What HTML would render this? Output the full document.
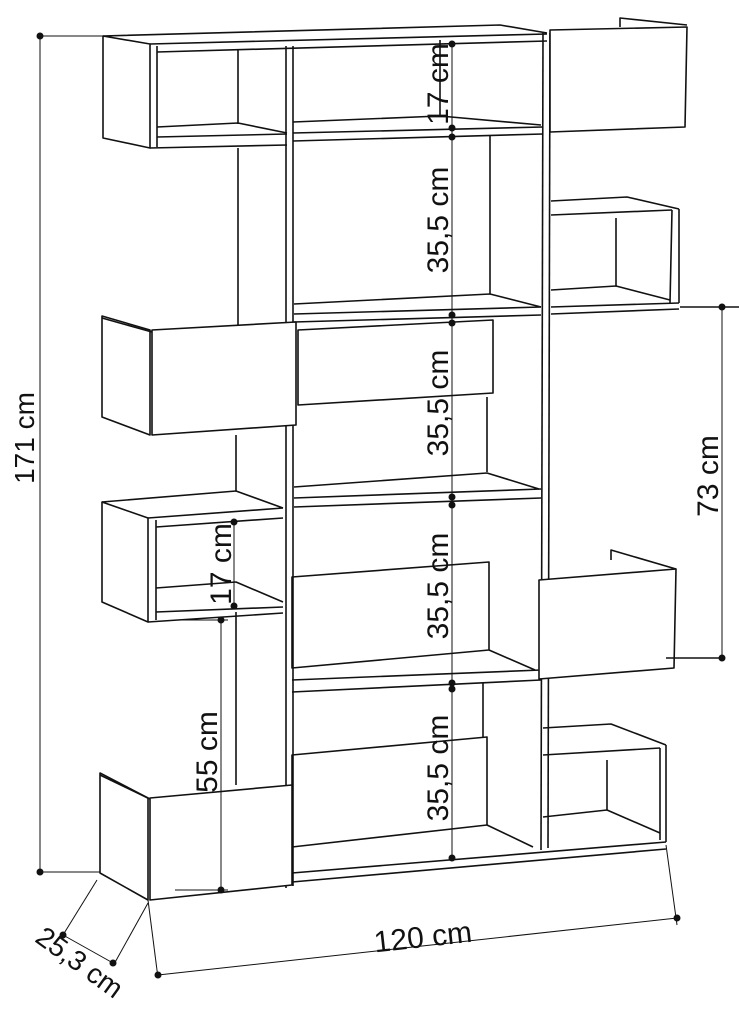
<!DOCTYPE html>
<html><head><meta charset="utf-8"><style>
html,body{margin:0;padding:0;background:#fff;}
svg{display:block;}
text{font-family:"Liberation Sans",sans-serif;font-size:30px;fill:#111;}
</style></head><body>
<svg width="739" height="1020" viewBox="0 0 739 1020" xmlns="http://www.w3.org/2000/svg">
<g fill="none" stroke="#111" stroke-width="1.6" stroke-linejoin="round">
<polygon points="103,36 150,44 150,148 103,138" fill="#fff"/>
<line x1="157" y1="46" x2="157" y2="147"/>
<polyline points="103,36 500,25 547,33"/>
<line x1="150" y1="44" x2="547" y2="34"/>
<line x1="157" y1="52" x2="547" y2="41"/>
<line x1="238" y1="50" x2="238" y2="124"/>
<polyline points="157,127 238,123 287,133"/>
<line x1="157" y1="137" x2="287" y2="134"/>
<line x1="150" y1="148" x2="287" y2="145"/>
<line x1="286" y1="46" x2="286" y2="888"/>
<line x1="293" y1="46" x2="293" y2="886"/>
<line x1="543" y1="33" x2="541" y2="850"/>
<line x1="550" y1="33" x2="548" y2="848"/>
<line x1="238" y1="148" x2="238" y2="325"/>
<line x1="236" y1="435" x2="236" y2="491"/>
<line x1="236" y1="612" x2="236" y2="785"/>
<line x1="440" y1="40" x2="440" y2="117"/>
<polyline points="293,122 440,116 541,125"/>
<line x1="293" y1="133" x2="543" y2="127"/>
<line x1="293" y1="141" x2="543" y2="134"/>
<polygon points="550,30 687,27 685,127 550,132" fill="#fff"/>
<polyline points="620,27 620,18 687,25"/>
<line x1="490" y1="135" x2="490" y2="294"/>
<polyline points="294,304 490,294 541,307"/>
<line x1="294" y1="314" x2="541" y2="307"/>
<line x1="294" y1="322" x2="541" y2="315"/>
<polyline points="551,201 627,197 679,209"/>
<line x1="551" y1="215" x2="672" y2="210"/>
<line x1="672" y1="210" x2="670" y2="303"/>
<line x1="679" y1="209" x2="679" y2="303"/>
<line x1="616" y1="218" x2="616" y2="286"/>
<polyline points="551,290 616,286 670,300"/>
<line x1="551" y1="307" x2="679" y2="303"/>
<line x1="551" y1="314" x2="679" y2="309"/>
<line x1="680" y1="307" x2="739" y2="307"/>
<polygon points="102,316 150,330 150,435 102,417" fill="#fff"/>
<polygon points="152,330 296,322 296,425 152,435" fill="#fff"/>
<line x1="102" y1="318" x2="152" y2="332"/>
<polygon points="298,330 493,320 493,393 298,405"/>
<line x1="487" y1="397" x2="487" y2="472"/>
<polyline points="294,487 487,473 539,489"/>
<line x1="294" y1="498" x2="541" y2="489"/>
<line x1="294" y1="507" x2="541" y2="498"/>
<polygon points="102,502 148,518 148,622 102,602" fill="#fff"/>
<polyline points="102,502 236,491 283,508"/>
<line x1="148" y1="518" x2="283" y2="508"/>
<line x1="156" y1="527" x2="283" y2="518"/>
<line x1="156" y1="520" x2="156" y2="620"/>
<polyline points="156,588 236,582 283,602"/>
<line x1="156" y1="612" x2="283" y2="607"/>
<line x1="148" y1="622" x2="283" y2="613"/>
<polygon points="292,577 489,562 489,650 292,668"/>
<line x1="489" y1="650" x2="535" y2="670"/>
<line x1="292" y1="680" x2="541" y2="670"/>
<line x1="292" y1="692" x2="541" y2="680"/>
<polyline points="611,560 611,550 676,569"/>
<polygon points="539,580 676,569 674,668 539,679" fill="#fff"/>
<line x1="666" y1="658" x2="725" y2="658"/>
<line x1="483" y1="683" x2="483" y2="737"/>
<polygon points="292,755 487,737 487,825 292,847"/>
<line x1="487" y1="825" x2="533" y2="847"/>
<line x1="292" y1="873" x2="666" y2="842"/>
<line x1="292" y1="882" x2="666" y2="849"/>
<polyline points="543,728 611,724 666,745"/>
<line x1="543" y1="755" x2="660" y2="748"/>
<line x1="607" y1="760" x2="607" y2="810"/>
<polyline points="543,817 607,810 660,833"/>
<line x1="660" y1="748" x2="660" y2="840"/>
<line x1="666" y1="745" x2="666" y2="842"/>
<polygon points="100,773 148,798 148,900 100,873" fill="#fff"/>
<line x1="100" y1="775" x2="152" y2="800"/>
<polygon points="150,798 292,785 292,885 150,900" fill="#fff"/>
</g>
<g stroke="#111" stroke-width="1" fill="none">
<line x1="40" y1="36" x2="40" y2="872"/>
<line x1="40" y1="36" x2="103" y2="36"/>
<line x1="40" y1="872" x2="100" y2="872"/>
<line x1="452" y1="44" x2="452" y2="858"/>
<line x1="234" y1="522" x2="234" y2="606"/>
<line x1="221" y1="620" x2="221" y2="890"/>
<line x1="175" y1="620" x2="228" y2="620"/>
<line x1="175" y1="890" x2="228" y2="890"/>
<line x1="722" y1="307" x2="722" y2="658"/>
<line x1="158" y1="975" x2="677" y2="918"/>
<line x1="148" y1="900" x2="158" y2="978"/>
<line x1="666" y1="845" x2="677" y2="925"/>
<line x1="97" y1="880" x2="63" y2="935"/>
<line x1="148" y1="903" x2="113" y2="966"/>
<line x1="63" y1="935" x2="113" y2="963"/>
</g>
<g fill="#111">
<circle cx="40" cy="36" r="3.5"/><circle cx="40" cy="872" r="3.5"/>
<circle cx="452" cy="44" r="3.5"/><circle cx="452" cy="128" r="3.5"/>
<circle cx="452" cy="137" r="3.5"/><circle cx="452" cy="315" r="3.5"/>
<circle cx="452" cy="323" r="3.5"/><circle cx="452" cy="497" r="3.5"/>
<circle cx="452" cy="505" r="3.5"/><circle cx="452" cy="683" r="3.5"/>
<circle cx="452" cy="689" r="3.5"/><circle cx="452" cy="858" r="3.5"/>
<circle cx="234" cy="522" r="3.5"/><circle cx="234" cy="606" r="3.5"/>
<circle cx="221" cy="620" r="3.5"/><circle cx="221" cy="890" r="3.5"/>
<circle cx="722" cy="307" r="3.5"/><circle cx="722" cy="658" r="3.5"/>
<circle cx="158" cy="975" r="3.5"/><circle cx="677" cy="918" r="3.5"/>
<circle cx="63" cy="935" r="3.5"/><circle cx="113" cy="963" r="3.5"/>
</g>
<g>
<text transform="translate(34,438) rotate(-90)" text-anchor="middle" style="font-size:28px">171 cm</text>
<text transform="translate(448,84) rotate(-90)" text-anchor="middle">17 cm</text>
<text transform="translate(448,220) rotate(-90)" text-anchor="middle">35,5 cm</text>
<text transform="translate(448,403) rotate(-90)" text-anchor="middle">35,5 cm</text>
<text transform="translate(448,586) rotate(-90)" text-anchor="middle">35,5 cm</text>
<text transform="translate(448,768) rotate(-90)" text-anchor="middle">35,5 cm</text>
<text transform="translate(231,564) rotate(-90)" text-anchor="middle">17 cm</text>
<text transform="translate(217,752) rotate(-90)" text-anchor="middle">55 cm</text>
<text transform="translate(718,476) rotate(-90)" text-anchor="middle">73 cm</text>
<text transform="translate(424,947) rotate(-6.3)" text-anchor="middle">120 cm</text>
<text transform="translate(74,970) rotate(36)" text-anchor="middle" style="font-size:28px">25,3 cm</text>
</g>
</svg>
</body></html>
